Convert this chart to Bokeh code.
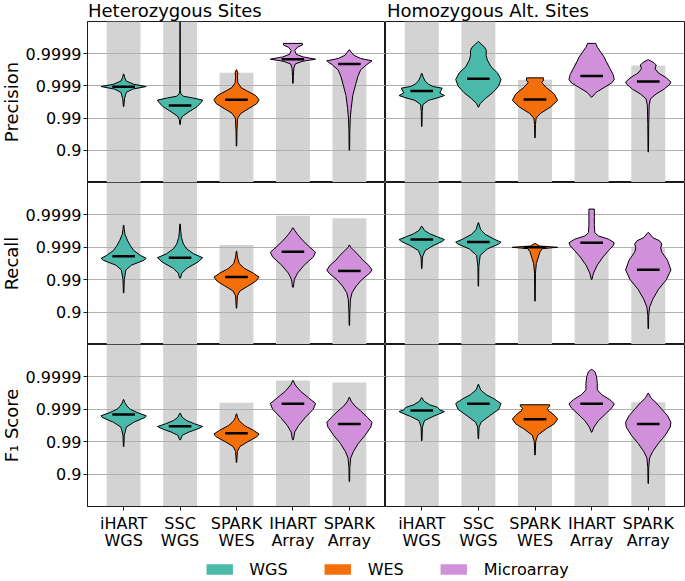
import math
from bokeh.plotting import figure
from bokeh.layouts import gridplot, column
from bokeh.models import Range1d, FixedTicker, Legend, LegendItem
from bokeh.core.properties import value
from bokeh.embed import file_html
from bokeh.resources import INLINE

FONT = "DejaVu Sans"

# ---------------- data ----------------
samples = ["iHART\nWGS", "SSC\nWGS", "SPARK\nWES", "IHART\nArray", "SPARK\nArray"]
tech = ["WGS", "WGS", "WES", "Microarray", "Microarray"]
tech_names = ["WGS", "WES", "Microarray"]
tech_colors = ["#4bb9aa", "#f46e0a", "#d091da"]
metrics = ["Precision", "Recall", "F\u2081 Score"]
site_types = ["Heterozygous Sites", "Homozygous Alt. Sites"]
tick_nines = [1, 2, 3, 4]
tick_labels = ["0.9", "0.99", "0.999", "0.9999"]

# all values are "number of nines": -log10(1 - score); 6 = bar reaches beyond the top
bars_prec_het = [6, 6, 3.41, 3.75, 3.63]
bars_prec_hom = [6, 6, 3.19, 3.73, 3.63]
bars_rec_het = [6, 6, 3.07, 3.97, 3.90]
bars_rec_hom = [6, 6, 3.00, 3.00, 3.00]
bars_f1_het = [6, 6, 3.20, 3.89, 3.83]
bars_f1_hom = [6, 6, 2.95, 3.20, 3.22]

med_prec_het = [2.97, 2.39, 2.57, 3.83, 3.68]
med_prec_hom = [2.84, 3.22, 2.58, 3.31, 3.14]
med_rec_het = [2.72, 2.68, 2.08, 2.86, 2.27]
med_rec_hom = [3.24, 3.16, 3.00, 3.14, 2.31]
med_f1_het = [2.84, 2.48, 2.26, 3.17, 2.55]
med_f1_hom = [2.96, 3.17, 2.69, 3.17, 2.55]

# violin outlines: (level in nines, relative half-width)
prof_prec_het = [
    [(2.36, 0.01), (2.6, 0.04), (2.8, 0.12), (2.9, 0.4), (2.98, 1.0), (3.05, 0.45), (3.15, 0.12), (3.25, 0.05), (3.37, 0.01)],
    [(1.80, 0.01), (1.95, 0.03), (2.05, 0.1), (2.2, 0.4), (2.35, 0.75), (2.5, 0.95), (2.56, 1.0), (2.62, 0.6), (2.68, 0.15), (2.75, 0.04), (2.85, 0.015), (5.5, 0.0)],
    [(1.13, 0.01), (1.6, 0.02), (2.0, 0.05), (2.15, 0.2), (2.3, 0.55), (2.45, 0.9), (2.57, 1.0), (2.7, 0.85), (2.85, 0.45), (2.95, 0.2), (3.1, 0.06), (3.3, 0.04), (3.4, 0.06), (3.5, 0.01)],
    [(3.08, 0.01), (3.3, 0.02), (3.55, 0.04), (3.68, 0.1), (3.76, 0.4), (3.83, 1.0), (3.9, 0.45), (3.98, 0.15), (4.1, 0.08), (4.2, 0.2), (4.27, 0.42), (4.32, 0.42)],
    [(1.0, 0.01), (1.6, 0.02), (2.0, 0.04), (2.3, 0.08), (2.7, 0.15), (3.05, 0.28), (3.3, 0.38), (3.5, 0.5), (3.65, 0.75), (3.78, 1.0), (3.85, 0.5), (3.95, 0.2), (4.05, 0.08), (4.12, 0.01)],
]
prof_prec_hom = [
    [(1.74, 0.01), (2.2, 0.02), (2.42, 0.05), (2.55, 0.3), (2.65, 0.8), (2.70, 1.0), (2.78, 0.8), (2.86, 0.85), (2.93, 0.9), (2.98, 0.5), (3.05, 0.3), (3.15, 0.15), (3.28, 0.06), (3.39, 0.01)],
    [(2.34, 0.01), (2.45, 0.08), (2.6, 0.3), (2.8, 0.65), (3.0, 0.9), (3.2, 1.0), (3.4, 0.85), (3.6, 0.55), (3.8, 0.4), (3.95, 0.34), (4.1, 0.35), (4.2, 0.28), (4.3, 0.12), (4.38, 0.01)],
    [(1.39, 0.01), (1.8, 0.02), (2.0, 0.05), (2.15, 0.25), (2.35, 0.7), (2.55, 1.0), (2.75, 0.85), (2.95, 0.5), (3.1, 0.3), (3.18, 0.38), (3.25, 0.37)],
    [(2.65, 0.01), (2.8, 0.2), (2.95, 0.55), (3.1, 0.9), (3.2, 1.0), (3.35, 0.95), (3.55, 0.8), (3.75, 0.65), (3.9, 0.55), (4.05, 0.4), (4.2, 0.25), (4.32, 0.18)],
    [(0.95, 0.01), (1.8, 0.02), (2.4, 0.04), (2.6, 0.1), (2.75, 0.35), (2.9, 0.7), (3.05, 0.95), (3.12, 1.0), (3.25, 0.8), (3.4, 0.45), (3.53, 0.3), (3.65, 0.35), (3.72, 0.25), (3.81, 0.02)],
]
prof_rec_het = [
    [(1.59, 0.01), (2.0, 0.03), (2.3, 0.1), (2.45, 0.35), (2.6, 0.9), (2.66, 1.0), (2.75, 0.75), (2.9, 0.45), (3.05, 0.3), (3.2, 0.18), (3.4, 0.06), (3.55, 0.03), (3.68, 0.01)],
    [(2.05, 0.02), (2.2, 0.08), (2.35, 0.3), (2.55, 0.8), (2.68, 1.0), (2.8, 0.6), (2.95, 0.3), (3.1, 0.15), (3.3, 0.06), (3.5, 0.03), (3.72, 0.01)],
    [(1.12, 0.01), (1.5, 0.04), (1.65, 0.15), (1.8, 0.5), (1.95, 0.85), (2.08, 1.0), (2.2, 0.75), (2.35, 0.35), (2.5, 0.12), (2.7, 0.04), (2.88, 0.01)],
    [(1.77, 0.02), (2.0, 0.06), (2.2, 0.2), (2.45, 0.5), (2.7, 0.9), (2.85, 1.0), (3.0, 0.75), (3.2, 0.45), (3.4, 0.2), (3.52, 0.08), (3.6, 0.01)],
    [(0.59, 0.01), (1.0, 0.02), (1.4, 0.05), (1.6, 0.12), (1.8, 0.3), (2.0, 0.55), (2.2, 0.9), (2.3, 1.0), (2.45, 0.85), (2.6, 0.6), (2.75, 0.42), (2.9, 0.2), (3.0, 0.06), (3.07, 0.01)],
]
prof_rec_hom = [
    [(2.34, 0.01), (2.7, 0.03), (2.9, 0.15), (3.05, 0.5), (3.18, 0.9), (3.24, 1.0), (3.32, 0.7), (3.42, 0.35), (3.52, 0.12), (3.65, 0.01)],
    [(1.8, 0.01), (2.4, 0.02), (2.75, 0.08), (2.95, 0.4), (3.1, 0.9), (3.16, 1.0), (3.25, 0.7), (3.4, 0.3), (3.55, 0.1), (3.76, 0.01)],
    [(1.34, 0.01), (2.2, 0.02), (2.5, 0.06), (2.7, 0.15), (2.86, 0.22), (2.96, 0.32), (3.0, 1.0), (3.04, 0.2), (3.12, 0.01)],
    [(2.0, 0.01), (2.2, 0.08), (2.45, 0.25), (2.7, 0.5), (2.9, 0.75), (3.05, 0.95), (3.14, 1.0), (3.25, 0.75), (3.35, 0.3), (3.45, 0.14), (3.7, 0.12), (3.95, 0.12), (4.1, 0.12), (4.18, 0.12)],
    [(0.49, 0.01), (0.9, 0.02), (1.15, 0.06), (1.4, 0.2), (1.7, 0.45), (2.0, 0.8), (2.3, 1.0), (2.6, 0.85), (2.85, 0.6), (2.98, 0.55), (3.1, 0.6), (3.2, 0.5), (3.3, 0.2), (3.46, 0.01)],
]
prof_f1_het = [
    [(1.85, 0.01), (2.2, 0.03), (2.45, 0.12), (2.6, 0.45), (2.75, 0.95), (2.8, 1.0), (2.9, 0.6), (3.0, 0.3), (3.1, 0.15), (3.2, 0.06), (3.3, 0.01)],
    [(2.06, 0.02), (2.2, 0.1), (2.3, 0.4), (2.4, 0.8), (2.47, 1.0), (2.55, 0.65), (2.65, 0.3), (2.75, 0.1), (2.88, 0.01)],
    [(1.36, 0.01), (1.7, 0.04), (1.85, 0.15), (2.0, 0.5), (2.15, 0.9), (2.24, 1.0), (2.35, 0.75), (2.5, 0.35), (2.65, 0.12), (2.75, 0.05), (2.86, 0.01)],
    [(2.06, 0.02), (2.3, 0.08), (2.5, 0.25), (2.75, 0.55), (3.0, 0.9), (3.18, 1.0), (3.35, 0.7), (3.55, 0.35), (3.75, 0.1), (3.89, 0.01)],
    [(0.77, 0.01), (1.2, 0.02), (1.5, 0.06), (1.7, 0.18), (1.95, 0.4), (2.2, 0.7), (2.45, 0.95), (2.6, 1.0), (2.75, 0.8), (2.95, 0.5), (3.1, 0.25), (3.25, 0.08), (3.37, 0.01)],
]
prof_f1_hom = [
    [(2.03, 0.01), (2.45, 0.03), (2.65, 0.12), (2.78, 0.5), (2.88, 0.85), (2.93, 1.0), (2.98, 0.8), (3.06, 0.7), (3.14, 0.35), (3.25, 0.1), (3.36, 0.01)],
    [(2.09, 0.01), (2.45, 0.03), (2.6, 0.12), (2.8, 0.5), (3.0, 0.9), (3.18, 1.0), (3.32, 0.7), (3.45, 0.35), (3.6, 0.1), (3.77, 0.01)],
    [(1.59, 0.01), (2.0, 0.03), (2.2, 0.12), (2.4, 0.5), (2.55, 0.85), (2.7, 1.0), (2.85, 0.8), (2.95, 0.6), (3.03, 0.55), (3.1, 0.65), (3.14, 0.65)],
    [(2.29, 0.01), (2.45, 0.1), (2.65, 0.3), (2.85, 0.6), (3.05, 0.9), (3.17, 1.0), (3.3, 0.8), (3.45, 0.45), (3.6, 0.25), (3.8, 0.25), (4.0, 0.22), (4.15, 0.15), (4.23, 0.02)],
    [(0.71, 0.01), (1.2, 0.02), (1.5, 0.06), (1.7, 0.2), (1.95, 0.45), (2.2, 0.75), (2.45, 0.97), (2.6, 1.0), (2.8, 0.85), (3.0, 0.6), (3.2, 0.35), (3.35, 0.12), (3.5, 0.01)],
]

panel_bars = [[bars_prec_het, bars_prec_hom], [bars_rec_het, bars_rec_hom], [bars_f1_het, bars_f1_hom]]
panel_meds = [[med_prec_het, med_prec_hom], [med_rec_het, med_rec_hom], [med_f1_het, med_f1_hom]]
panel_profs = [[prof_prec_het, prof_prec_hom], [prof_rec_het, prof_rec_hom], [prof_f1_het, prof_f1_hom]]

# ---------------- layout ----------------
YLAB_W = 22          # strip holding the rotated row labels
AXIS_W = 65          # tick labels of the left column
FRAME_W = [298, 299]
FRAME_H = [161, 162, 162]
TITLE_H = 21
BOTTOM_BORDER = 50
LEGEND_H = 25
X0, X1 = -0.64, 4.64
Y_BOTTOM, Y_TOP = 1.0, 1e-5
HALF_W = 0.4
BAR_W = 0.6
INK = "#1a1a1a"

def err(q):
    return 10.0 ** (-q)

def blank(fw, fh, xr, yr):
    f = figure(frame_width=fw, frame_height=fh, x_range=xr, y_range=yr,
               toolbar_location=None, output_backend="svg", min_border=0)
    f.axis.visible = False
    f.grid.visible = False
    f.outline_line_color = None
    return f

def make_panel(r, c):
    p = figure(frame_width=FRAME_W[c], frame_height=FRAME_H[r],
               x_range=Range1d(X0, X1), y_range=Range1d(Y_BOTTOM, Y_TOP),
               y_axis_type="log", toolbar_location=None, output_backend="svg",
               min_border=0)
    p.min_border_left = AXIS_W if c == 0 else 0
    p.min_border_right = 0 if c == 0 else 1
    p.min_border_top = 0
    p.min_border_bottom = BOTTOM_BORDER if r == 2 else 0
    p.outline_line_color = INK
    p.outline_line_width = 1

    yt = [err(q) for q in tick_nines]
    p.yaxis.ticker = FixedTicker(ticks=yt)
    p.yaxis.major_label_overrides = {t: l for t, l in zip(yt, tick_labels)}
    p.yaxis.minor_tick_line_color = None
    p.yaxis.major_tick_in = 0
    p.yaxis.major_tick_out = 4
    p.yaxis.major_tick_line_color = INK
    p.yaxis.axis_line_color = INK
    p.yaxis.major_label_text_font = FONT
    p.yaxis.major_label_text_font_size = "16px"
    p.yaxis.major_label_text_color = "black"
    p.yaxis.major_label_standoff = 2
    p.yaxis.visible = (c == 0)

    p.ygrid.ticker = FixedTicker(ticks=yt)
    p.ygrid.grid_line_color = "#b0b0b0"
    p.ygrid.grid_line_width = 1
    p.xgrid.visible = False

    p.xaxis.ticker = FixedTicker(ticks=list(range(len(samples))))
    p.xaxis.major_label_overrides = {i: s for i, s in enumerate(samples)}
    p.xaxis.minor_tick_line_color = None
    p.xaxis.major_tick_in = 0
    p.xaxis.major_tick_out = 4
    p.xaxis.major_tick_line_color = INK
    p.xaxis.axis_line_color = INK
    p.xaxis.major_label_text_font = FONT
    p.xaxis.major_label_text_font_size = "16px"
    p.xaxis.major_label_text_color = "black"
    p.xaxis.major_label_text_line_height = 0.9
    p.xaxis.major_label_standoff = 3
    p.xaxis.visible = (r == 2)

    idx = list(range(len(samples)))
    bars = panel_bars[r][c]
    p.vbar(x=idx, top=[err(min(b, 5.0)) for b in bars], bottom=Y_BOTTOM, width=BAR_W,
           fill_color="#d3d3d3", line_color=None, level="image")

    xs, ys, fills = [], [], []
    for i, prof in enumerate(panel_profs[r][c]):
        left_x = [i - HALF_W * w for q, w in prof]
        right_x = [i + HALF_W * w for q, w in reversed(prof)]
        yy = [err(min(q, 5.0)) for q, w in prof] + [err(min(q, 5.0)) for q, w in reversed(prof)]
        xs.append(left_x + right_x)
        ys.append(yy)
        fills.append(tech_colors[tech_names.index(tech[i])])
    p.patches(xs=xs, ys=ys, fill_color=fills, line_color="black", line_width=1)

    meds = panel_meds[r][c]
    p.segment(x0=[i - 0.2 for i in idx], x1=[i + 0.2 for i in idx],
              y0=[err(m) for m in meds], y1=[err(m) for m in meds],
              line_color="black", line_width=2.5)
    return p

panels = [[make_panel(r, c) for c in range(2)] for r in range(3)]

# column titles (frames line up with the panels below them)
title_figs = []
for c in range(2):
    t = blank(FRAME_W[c], TITLE_H, Range1d(X0, X1), Range1d(0, TITLE_H))
    t.min_border_left = AXIS_W if c == 0 else 0
    t.min_border_right = 0 if c == 0 else 1
    t.text(x=[X0], y=[11.5], x_offset=0.5 if c == 0 else 1.5, text=[site_types[c]],
           text_font=value(FONT), text_font_size=value("18px"), text_color="black",
           text_align="left", text_baseline="middle")
    title_figs.append(t)

# row labels (frames line up with the panel rows)
ylab_figs = []
for r in range(3):
    yl = blank(YLAB_W, FRAME_H[r], Range1d(0, YLAB_W), Range1d(0, 1))
    yl.min_border_bottom = BOTTOM_BORDER if r == 2 else 0
    yl.text(x=[10.5], y=[0.5], text=[metrics[r]], angle=math.pi / 2,
            text_font=value(FONT), text_font_size=value("18px"), text_color="black",
            text_align="center", text_baseline="middle")
    ylab_figs.append(yl)

corner = blank(YLAB_W, TITLE_H, Range1d(0, 1), Range1d(0, 1))
grid = gridplot([[corner] + title_figs] +
                [[ylab_figs[r]] + panels[r] for r in range(3)],
                toolbar_location=None)

# legend strip
leg = figure(width=YLAB_W + AXIS_W + FRAME_W[0] + FRAME_W[1] + 1, height=LEGEND_H,
             x_range=Range1d(0, 1), y_range=Range1d(0, 1), toolbar_location=None,
             output_backend="svg", min_border=0)
leg.min_border_left = YLAB_W + AXIS_W
leg.min_border_right = 1
leg.axis.visible = False
leg.grid.visible = False
leg.outline_line_color = None
items = []
for name, col in zip(tech_names, tech_colors):
    rr = leg.rect(x=[5], y=[5], width=0.1, height=0.1, fill_color=col, line_color=None)
    items.append(LegendItem(label=name, renderers=[rr]))
legend = Legend(items=items, orientation="horizontal", location="center",
                glyph_width=33, glyph_height=13, label_standoff=14, spacing=33,
                label_text_font=FONT, label_text_font_size="16px", label_text_color="black",
                border_line_color=None, background_fill_alpha=0, padding=0, margin=0)
leg.add_layout(legend, "center")

layout = column(grid, leg)
open("out.html", "w").write(file_html(layout, INLINE))
